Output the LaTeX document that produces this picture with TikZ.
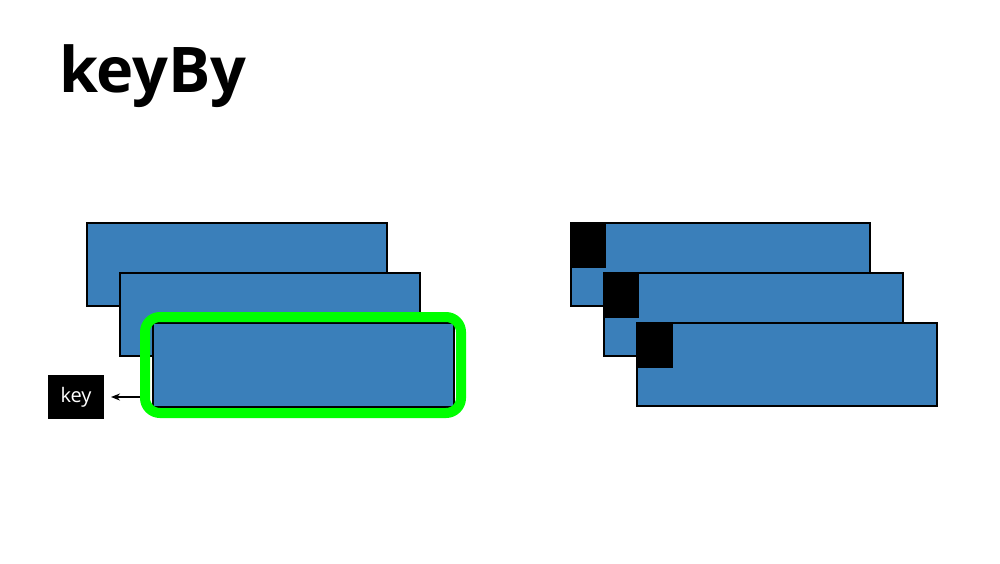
\documentclass[tikz,border=0pt]{standalone}
\usepackage{fontspec}
\setmainfont{Open Sans}
\usetikzlibrary{arrows.meta}
\definecolor{recblue}{RGB}{58,127,186}
\definecolor{selgreen}{RGB}{0,255,0}
\tikzset{
  every node/.style={outer sep=0pt},
  rec/.style={draw=black, line width=1.7pt, fill=recblue, anchor=north west, inner sep=0pt, minimum width=#1},
  keysq/.style={draw=black, line width=1.2pt, fill=black, anchor=north west, inner sep=0pt, minimum width=34pt, minimum height=44pt},
  selbox/.style={draw=selgreen, line width=10pt, rounded corners=15pt, inner sep=0pt, anchor=north west},
  keylabel/.style={fill=black, text=white, inner sep=0pt, minimum width=56pt, minimum height=44pt, font=\fontsize{20pt}{22pt}\selectfont},
  link/.style={-{Stealth[length=9pt,width=7pt]}, line width=1.3pt}
}
\begin{document}
\begin{tikzpicture}[x=1pt,y=-1pt]
\useasboundingbox (0,0) rectangle (1000,563);
\node[anchor=base west, inner sep=0pt, font=\fontsize{63pt}{68pt}\selectfont\bfseries] (title) at (59,92) {keyBy};
% left stack
\node[rec=300pt, minimum height=83pt] (a) at (87,223) {};
\node[rec=300pt, minimum height=83pt] (b) at (120,273) {};
\node[rec=301pt, minimum height=84pt] (c) at (153,323) {};
\node[selbox, minimum width=316pt, minimum height=96pt] (sel) at (145,317) {};
\node[keylabel] (key) at (76,397) {key};
\draw[link] ([xshift=-5pt]sel.west |- key.east) -- ([xshift=7pt]key.east);
% right stack
\node[rec=299pt, minimum height=83pt] (d) at (571,223) {};
\node[keysq] (dk) at (571,223) {};
\node[rec=299pt, minimum height=83pt] (e) at (604,273) {};
\node[keysq] (ek) at (604,273) {};
\node[rec=300pt, minimum height=83pt] (f) at (637,323) {};
\node[keysq, minimum width=35pt] (fk) at (637,323) {};
\end{tikzpicture}
\end{document}
